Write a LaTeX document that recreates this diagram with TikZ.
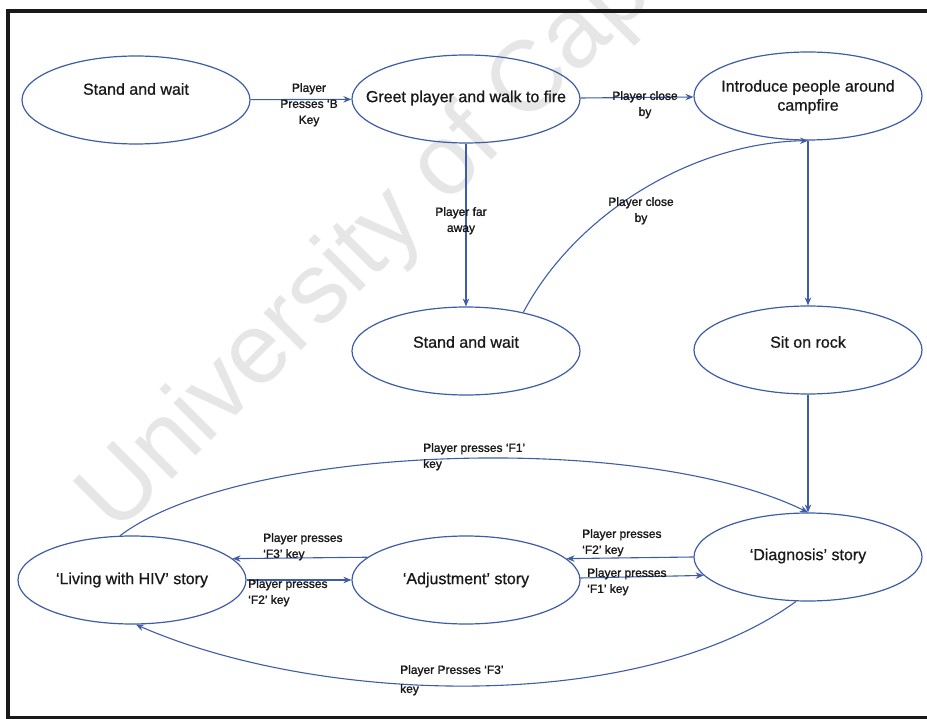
\documentclass[tikz,border=0pt]{standalone}
\usepackage{fontspec}
\setmainfont{Liberation Sans}
\newfontfamily\lblfont[FakeBold=1.5]{Liberation Sans}
\newfontfamily\stfont[FakeBold=0.8]{Liberation Sans}
\usetikzlibrary{shapes.geometric,arrows.meta}
\definecolor{lineblue}{RGB}{62,92,168}
\definecolor{txtgray}{RGB}{25,25,25}
\definecolor{wmgray}{RGB}{230,230,230}
\begin{document}
\begin{tikzpicture}[x=1pt,y=-1pt,
 state/.style={ellipse, draw=lineblue, line width=1.2pt, minimum width=228pt, minimum height=88pt, inner sep=0pt},
 stxt/.style={font=\stfont\fontsize{16}{19}\selectfont, text=txtgray, align=center, inner sep=0pt},
 lblc/.style={font=\lblfont\fontsize{12}{16}\selectfont, text=txtgray, inner sep=0pt, align=center, anchor=north},
 lbll/.style={font=\lblfont\fontsize{12}{16}\selectfont, text=txtgray, inner sep=0pt, align=left, anchor=north west},
 conn/.style={draw=lineblue, line width=1.1pt, -{Stealth[length=8pt,width=6.5pt]}},
 frameline/.style={draw=black!90, line cap=butt},
]
\useasboundingbox (0,0) rectangle (927,719);
% watermark
\begin{scope}
\clip (0,0) rectangle (927,719);
\node[rotate=45, anchor=base west, text=wmgray, inner sep=0pt, font=\fontsize{100}{100}\selectfont] (wm) at (116,536) {University of Cape};
\end{scope}
% frame
\draw[frameline, line width=3.5pt] (6,11) -- (927,11);
\draw[frameline, line width=4pt] (8,11) -- (8,719);
\draw[frameline, line width=3pt] (8,717) -- (927,717);

% states
\node[state] (sw1) at (136,100) {};
\node[state] (greet) at (466,99) {};
\node[state] (intro) at (808,96) {};
\node[state] (sw2) at (466,351) {};
\node[state] (sit) at (808,350) {};
\node[state] (diag) at (808,557) {};
\node[state] (adj) at (466,580) {};
\node[state] (liv) at (132,580) {};

\node[stxt] (sw1t) at (136,89) {Stand and wait};
\node[stxt] (greett) at (466,98) {Greet player and walk to fire};
\node[stxt] (introt) at (808,97) {Introduce people around\\campfire};
\node[stxt] (sw2t) at (466,342) {Stand and wait};
\node[stxt] (sitt) at (808,342) {Sit on rock};
\node[stxt] (diagt) at (808,556) {‘Diagnosis’ story};
\node[stxt] (adjt) at (466,580) {‘Adjustment’ story};
\node[stxt] (livt) at (132,580) {‘Living with HIV’ story};

% connectors
\draw[conn] (sw1) -- (greet);
\draw[conn] (greet) -- (intro);
\draw[conn] (greet) -- (sw2);
\draw[conn] (sw2.34) .. controls (575,215) and (690,143) .. (intro.south);
\draw[conn] (intro) -- (sit);
\draw[conn] (sit) -- (diag);
\draw[conn] (liv.105) .. controls (240,445) and (640,430) .. (diag.north);
\draw[conn] (diag.255) .. controls (640,715) and (320,705) .. (liv.275);
\draw[conn] (diag.west) -- (adj.12.5);
\draw[conn] (adj.1.5) -- (diag.190.9);
\draw[conn] (adj.167.5) -- (liv.12.5);
\draw[conn] (liv) -- (adj);

% labels
\node[lblc] (l1) at (309,83) {Player\\Presses ‘B\\Key};
\node[lblc] (l2) at (645,91) {Player close\\by};
\node[lblc] (l3) at (461,207) {Player far\\away};
\node[lblc] (l4) at (641,197) {Player close\\by};
\node[lbll] (l5) at (423,443) {Player presses ‘F1’\\key};
\node[lbll] (l6) at (263,533) {Player presses\\‘F3’ key};
\node[lbll] (l7) at (248,579) {Player presses\\‘F2’ key};
\node[lbll] (l8) at (582,529) {Player presses\\‘F2’ key};
\node[lbll] (l9) at (587,568) {Player presses\\‘F1’ key};
\node[lbll, font=\lblfont\fontsize{12}{19}\selectfont] (l10) at (400,665) {Player Presses ‘F3’\\key};
\end{tikzpicture}
\end{document}
